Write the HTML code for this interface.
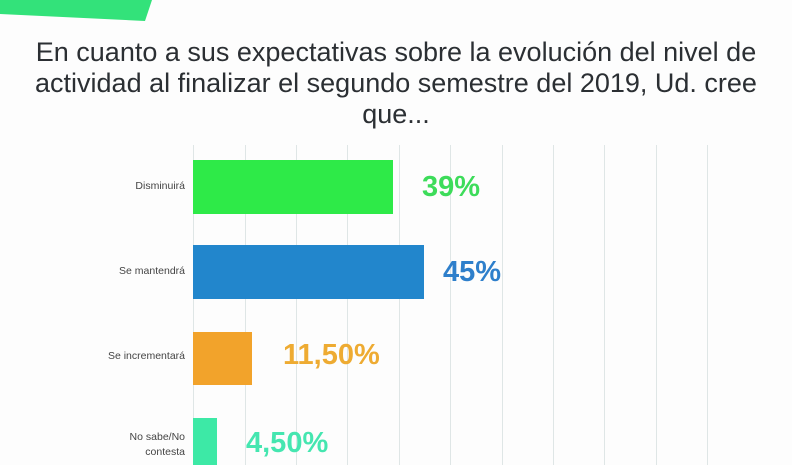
<!DOCTYPE html>
<html><head><meta charset="utf-8"><style>
body{margin:0;width:792px;height:465px;overflow:hidden;background:#fdfdfd;position:relative;font-family:"Liberation Sans",sans-serif}
.t{position:absolute;left:0;width:792px;text-align:center;color:#2b2f33;font-size:27px;line-height:31px;top:37px}
.g{position:absolute;top:145px;height:320px;width:1px;background:#dfe6e6}
.b{position:absolute;left:193px}
.l{position:absolute;right:607px;text-align:right;color:#444;font-size:10.5px;line-height:15px}
.v{position:absolute;font-weight:bold;font-size:29px;letter-spacing:0px}
</style></head><body>
<svg style="position:absolute;left:0;top:0" width="160" height="25"><polygon points="0,0 152,0 145,21 0,14" fill="#33e27a"/></svg>
<div class="t">En cuanto a sus expectativas sobre la evolución del nivel de<br>actividad al finalizar el segundo semestre del 2019, Ud. cree<br>que...</div>
<div class="g" style="left:193px"></div><div class="g" style="left:245px"></div><div class="g" style="left:296px"></div><div class="g" style="left:347px"></div><div class="g" style="left:399px"></div><div class="g" style="left:450px"></div><div class="g" style="left:502px"></div><div class="g" style="left:553px"></div><div class="g" style="left:604px"></div><div class="g" style="left:656px"></div><div class="g" style="left:707px"></div>
<div class="b" style="top:160px;width:200px;height:54px;background:#2eea48"></div>
<div class="b" style="top:245px;width:231px;height:54px;background:#2286cc"></div>
<div class="b" style="top:332px;width:59px;height:53px;background:#f2a32b"></div>
<div class="b" style="top:418px;width:24px;height:47px;background:#3de9a6"></div>
<div class="l" style="top:179px">Disminuirá</div>
<div class="l" style="top:264px">Se mantendrá</div>
<div class="l" style="top:349px">Se incrementará</div>
<div class="l" style="top:430px">No sabe/No<br>contesta</div>
<div class="v" style="left:422px;top:171px;color:#3ddc5a">39%</div>
<div class="v" style="left:443px;top:256px;color:#2e7fcb">45%</div>
<div class="v" style="left:283px;top:339px;color:#eeab32">11,50%</div>
<div class="v" style="left:246px;top:427px;color:#45e6b0">4,50%</div>
</body></html>
